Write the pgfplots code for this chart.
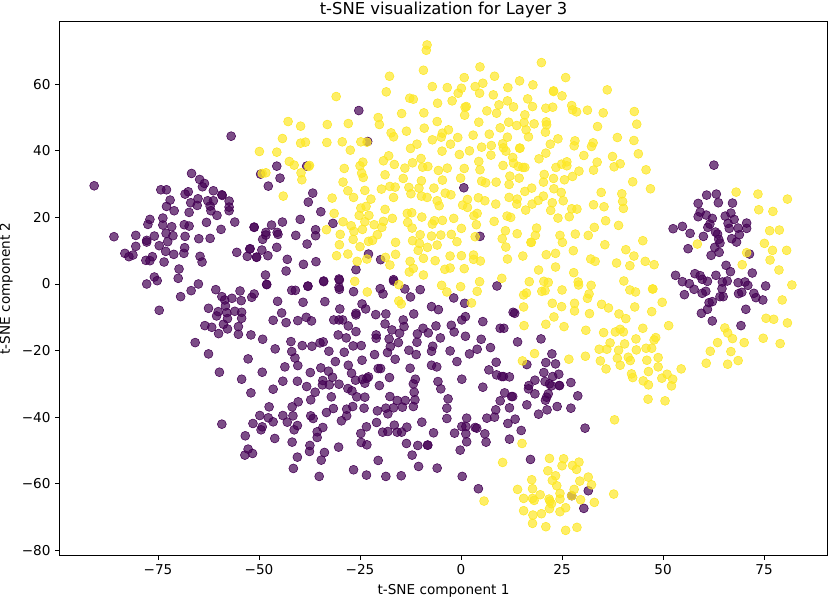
\documentclass[border=0pt]{standalone}
\usepackage{fontspec}
\setmainfont{DejaVu Sans}
\usepackage{pgfplots}
\pgfplotsset{compat=1.18}
\definecolor{vdark}{HTML}{440154}
\definecolor{vlight}{HTML}{FDE725}

\begin{document}
\begin{tikzpicture}
\useasboundingbox (-45pt,-33pt) rectangle (577.5pt,416.25pt);
\begin{axis}[
    scale only axis,
    width=575.25pt, height=399.75pt,
    xmin=-99.26, xmax=90.6,
    ymin=-81.4, ymax=78.7,
    axis line style={line width=0.75pt},
    tick style={black, line width=0.6pt},
    tick align=outside,
    major tick length=3.6pt,
    xtick pos=bottom, ytick pos=left,
    xtick={-75,-50,-25,0,25,50,75},
    xticklabels={−75,−50,−25,0,25,50,75},
    ytick={-80,-60,-40,-20,0,20,40,60},
    yticklabels={−80,−60,−40,−20,0,20,40,60},
    tick label style={font=\fontsize{10.2}{12}\selectfont},
    label style={font=\fontsize{10.2}{12}\selectfont},
    title style={font=\fontsize{12.3}{14}\selectfont, yshift=-6.5pt},
    title={t-SNE visualization for Layer 3},
    xlabel={t-SNE component 1},
    ylabel={t-SNE component 2},
]
% class 0
\addplot[only marks, mark=*, mark size=3.35pt, color=vdark, mark options={draw=none, fill=vdark, fill opacity=0.7}] coordinates {
(-56.9,44.4)(-90.8,29.5)(-66.7,33.2)(-64.7,31.4)(-63.5,30.2)(-64,29.2)(-61.3,28)(-74.3,28.3)(-72.9,28.3)(-67.5,27.7)
(-68.3,27)(-59.2,26.8)(-59.1,26.6)(-72,25.2)(-65.1,25.6)(-66.9,24.4)(-65.3,23.6)(-62.7,25)(-61.3,25)(-62.1,23.4)
(-57.4,24.9)(-57.4,23.1)(-57.4,22)(-61.9,22)(-72.9,23.3)(-71,22)(-67.3,21.5)(-60.4,20.6)(-56,18.6)(-77,19.4)
(-77.5,17.9)(-73.8,19.8)(-73.8,17.7)(-71.6,17.2)(-68.5,17.8)(-67.3,17.4)(-63,18.5)(-59.4,16.4)(-51.2,17)(-85.9,14.2)
(-80.5,14.6)(-75.9,14.4)(-73,15.2)(-71.3,14.5)(-68.3,14.3)(-64.9,13.6)(-62.1,13.7)(-77.8,13.1)(-77.8,12.6)(-72.6,12.7)
(-74.7,11.5)(-80.5,11.3)(-68.4,10.9)(-68.6,9.2)(-73.1,9.8)(-71.1,8.9)(-83.2,9.2)(-82.2,8.2)(-81.2,8.7)(-76.4,8.2)
(-78,7.1)(-77,7)(-73.5,6.6)(-64.6,8.3)(-64.1,6.6)(-69.8,4.5)(-55.5,9.5)(-52.3,10.5)(-52.9,8.3)(-50.6,8.1)
(-75.9,2.1)(-75.2,1)(-77.8,0)(-70,1.7)(-65,0)(-66.8,-2)(-69.4,-3.8)(-74.7,-7.9)(-60.7,-1.7)(-54.7,-2.1)
(-59.2,-3.8)(-58.5,-4.8)(-56.7,-4.3)(-54.4,-5)(-51.2,-3)(-51.8,-4)(-62.5,-7.3)(-58.3,-6.6)(-60.1,-8.3)(-58,-8.6)
(-56,-8.2)(-54.3,-8.5)(-60.5,-9.6)(-54.3,-10.3)(-57.8,-10.4)(-58.8,-12.1)(-55.1,-12.8)(-63.4,-12.5)(-61.7,-13)
(-48.1,-0.2)(-57.8,-13.5)(-55.1,-15.1)(-60,-14.9)(-52,-15.3)(-49.1,-16.6)(-65.8,-17.6)(-62.5,-21)(-52.7,-22.5)(-46,-19.5)
(-59.8,-26.5)(-54.3,-28.6)(-49.2,-26.5)(-52,-32.7)(-46.5,-31.6)(-59.2,-42.1)(-47.5,-36.9)(-49.8,-39.5)(-51.5,-41.9)(-47.7,-40.2)
(-46.5,-41.4)(-49.2,-42.9)(-49.5,-43.8)(-53.4,-45.6)(-46.1,-46.4)(-52.7,-49.6)(-53.5,-51.4)(-51.6,-50.9)
(-45.4,-5.2)(-44.4,-8.7)(-46.5,-10.9)(-43.3,-11.6)(-40.4,-11)(-38.3,-10)(-37,-11.1)(-39.1,-5.5)(-33.7,-5.3)(-41.9,-1.9)
(-41,-1.9)(-37.9,-0.7)(-34,0.7)(-30.1,-1.6)(-30.1,1.2)(-26.6,-2.3)(-30,-7.5)(-24.5,-6)(-23.6,-7.5)(-26,-8.8)
(-26,-9.3)(-31.5,-10.8)(-30.2,-10.8)(-29.3,-10.8)(-27.9,-12.6)(-26,-14.3)(-30.4,-15.3)(-28.4,-16.2)(-42.1,-17.3)(-39.3,-18.5)
(-36.9,-18.7)(-34.9,-17.7)(-34.1,-17.4)(-32.7,-20.2)(-28.9,-20.5)(-26.7,-18.6)(-24.7,-18.5)(-41.9,-20.3)(-41.1,-22.2)(-40.4,-24.5)
(-43.6,-24.9)(-31.1,-23.3)(-24.5,-22.9)(-27.9,-24.4)(-37.3,-26.6)(-34.7,-25.2)(-32.8,-26.2)(-27.1,-26.8)(-31.8,-28)(-44.1,-29.2)
(-40.5,-29.2)(-34.2,-29)(-34.3,-30.3)(-32.6,-30.3)(-38.2,-30.8)(-30.2,-30.1)(-26.1,-28.9)(-24.4,-28.6)(-23.3,-28.3)(-23.8,-29.8)
(-28,-31.4)(-27,-32.1)(-36.1,-32.5)(-37.2,-34.8)(-32.1,-33.9)(-25.8,-33.9)(-23.8,-34)(-40.3,-35.4)(-41.8,-36.9)(-31.6,-37.4)
(-26.8,-36.8)(-28.3,-37.6)(-24,-37.3)(-33.3,-38.6)(-28.3,-39.6)(-29.6,-41.1)(-44.1,-39.5)(-41.6,-39.6)(-43,-41.5)(-37.2,-39.6)
(-36.6,-40.4)(-40.5,-42.5)(-41.3,-43.8)(-34.2,-43.1)(-35.6,-44.4)(-35.6,-46.1)(-23.4,-42.9)(-24.8,-44.9)(-24.7,-47.6)(-23.3,-48.3)
(-41.8,-47.5)(-37.4,-48.5)(-37.5,-50.3)(-33.8,-50.6)(-30.3,-49)(-40.5,-52)(-34.6,-52.9)(-41.5,-55.4)(-35.1,-57.8)(-26.6,-55.8)(-23.4,-57.4)
(-20,-1.4)(-19.3,-3)(-13.9,-1.5)(-12.5,-3.9)(-10.1,-1.7)(-16.7,0.9)(-1.8,-4.2)(0.9,-5.8)(8.9,-0.6)(-7.3,-6.8)
(-5.6,-7.7)(-21.1,-9.2)(-18.6,-9)(-11.7,-9)(12.9,-8.5)(13.3,-8.8)(1.1,-9.8)(0.2,-10.8)(-14.3,-10.8)(-18.8,-12)
(-14.1,-12.8)(-17.1,-13.8)(-15.2,-14.8)(-9.4,-13.3)(-10.8,-15)(-8.1,-14.7)(-6.2,-12.6)(-2.4,-12.4)(-1.7,-14.4)(5.4,-11.3)
(9.7,-13.3)(10.6,-13.3)(-21,-15.3)(-21,-16.3)(-17.8,-16.5)(-15.5,-17.6)(-10.9,-17.5)(-5.1,-16.2)(1.1,-15.7)(5,-16.6)
(14,-17.4)(19.8,-16.5)(-17.5,-18.8)(-7,-18.7)(-7.3,-20.2)(-12.9,-19.9)(-11.1,-21.2)(-18.2,-20.6)(-21.4,-21.2)(-2.7,-20.1)
(2.1,-21)(4,-19.6)(7.3,-19.1)(-16.3,-22.6)(-1,-23.3)(8.7,-23.5)(16.3,-24.2)(22.5,-21)(21,-23.6)(23.4,-24)
(-20.5,-25.4)(-19.9,-25.4)(-12.6,-25.3)(-7.3,-24.4)(-6,-24.9)(6.9,-25.8)(8.8,-27.3)(10.1,-27.8)(10.5,-27.8)(12,-27.9)
(20.5,-26.6)(22.7,-27.8)(24.2,-27.1)(-22.9,-27.9)(-17.7,-28.1)(0.2,-28.6)(-11.3,-28.6)(-11.8,-30)(-5.7,-29.3)(-20.2,-30.5)
(-5,-31.5)(5.4,-31)(18.3,-28.9)(20.8,-29.3)(21.9,-30)(22.4,-30.6)(24.3,-30.5)(24.4,-30.5)(27.2,-29.6)(16.8,-30.5)
(16.7,-31.5)(18.3,-33)(21.6,-33)(21.2,-34)(20.9,-34.9)(28.9,-33.6)(-11.6,-32.5)(-11.4,-34.8)(-17.6,-33.8)(10.8,-32.7)
(12.5,-33.8)(12.8,-33.8)(9.7,-35.1)(-3.2,-34.5)(-15.8,-35)(-13.8,-35)(-14.5,-37)(-16.7,-37.2)(-18.6,-37.3)(-20.7,-38.1)
(-18.1,-39)(-11.8,-36.8)(-3.5,-37.3)(16.3,-36.3)(23.8,-36.8)(27.2,-37.3)(21.3,-37.8)(19.2,-39.1)(12,-37.2)(8.6,-37.8)
(8.3,-40)(6.4,-40.3)(-3.5,-40.4)(1.4,-40.3)(13.4,-40.6)(11.6,-41.9)(-9.7,-41.5)(-20.9,-41.6)(-16.5,-42.4)(-13.4,-43)
(0.2,-42.8)(1.2,-42.8)(3.5,-43.1)(3.9,-43.3)(30.7,-43.3)(-19.4,-44.5)(-18.1,-44.3)(-15.8,-44.5)(-14.7,-44.5)(-6.8,-44.7)
(-1.6,-44.8)(1.2,-45)(5.9,-45)(14.9,-44)(12,-46.6)(1.4,-47.4)(6.2,-47.5)(-13.5,-47.9)(-10.7,-48.5)(-8.3,-48.4)
(-8.2,-48.4)(-0.2,-49.9)(-12.1,-51.4)(-20.5,-53)(17.2,-52.7)(-10.5,-54.8)(-5.9,-55.3)(-18.6,-57.8)(-14.8,-57.6)(0.3,-57.8)(4.3,-61.5)
(31.5,-62.1)(30.4,-67.4)(27.4,-63.6)
(62.6,35.7)(60.8,26.7)(63.2,27)(63.7,24.4)(58.7,24.2)(67.2,24.3)(59.2,21.6)(58.7,20.2)(60.7,20.7)(62.2,19.7)
(65.4,20.4)(66.8,21.3)(67.6,19.4)(66.1,18.2)(70.7,18.3)(61.6,18)(61.1,17)(66.4,16.7)(68.6,16.8)(70.7,16.7)
(52.5,16.6)(54.8,17.3)(56.7,15.2)(60,14.3)(63,15.6)(63.5,15)(68.9,14.8)(63.8,13.4)(67,13.6)(64.1,12.3)
(68.2,12.6)(56.2,10.6)(62.8,11)(63.9,9.5)(61.9,8.6)(71.4,9)(65.6,5.6)(66.7,3.7)(72.1,3.3)(53.1,2.6)
(57.9,3.1)(59.2,2.5)(59.7,1.4)(63.1,2.6)(54.8,0.7)(56.5,0.1)(61,0.8)(64.7,0.6)(65.9,0.9)(68.6,0.4)
(70.3,0.6)(71,-0.4)(75.4,-0.6)(57.7,-1.6)(64.6,-1.4)(60.6,-2.2)(59.7,-2.8)(55.3,-3.2)(69.5,-2.5)(68.7,-2.9)
(72.5,-2.8)(73,-4.1)(74.7,-4.8)(64.1,-3.8)(64.9,-3.8)(62.2,-5.3)(61.4,-5.6)(61,-7.6)(59.5,-8.8)(70.5,-7.6)(62.2,-11.1)(69.3,-12.5)
(-25.3,52.1)(-23.1,42.8)(-45.6,35.4)(-49.6,33)(-38.2,35.4)(-44.8,31.8)(-47.7,29.4)(-36.7,27.3)(-37.8,24.6)(-34.7,21.7)
(-39.8,19.4)(-31.7,18.2)(-51.2,17.1)(-46.9,17.7)(-48.3,15.5)(-48.3,14.7)(-44.2,18.6)(-45.5,15.5)(-45.3,14.9)(-49.1,13.4)
(-40.9,14.6)(-36,16.3)(-36,14.5)(-38.1,12)(-45.6,11)(-52.2,10.6)(-49.3,10.2)(-50.6,8)(-47.8,8.5)(-43,7.4)
(-39,5.9)(-35.9,6.7)(-43.3,3.9)(-48.4,2.7)(-48.1,-0.1)(-37.9,-0.6)(-34,0.9)(-30.2,1.5)(-30.2,-1)(-26,4.3)
(-22.9,9)(-19.9,7.3)(-16.7,1.3)(0.7,28.9)(4.7,14.3)
};
% class 1
\addplot[only marks, mark=*, mark size=3.35pt, color=vlight, mark options={draw=none, fill=vlight, fill opacity=0.7}] coordinates {
(-23.2,-2.4)(-15.4,-0.2)(-15.4,-5.1)(-14.8,-6)(-4.8,-0.4)(-3.5,-2.4)(-0.1,-0.8)(4.6,0.7)(4,-2.2)(2.6,-5.7)
(15.2,-23.1)(18.2,-20.9)(26.7,-22.6)(30.8,-21.7)(15.1,-47.9)(10.3,-53.6)
(21.9,-52.4)(25.4,-52.5)(25,-54.6)(27.6,-54.5)(29.2,-53.5)(28.6,-55.7)(21.5,-56.1)(23.4,-57.6)(22.6,-59)(17.5,-58.8)
(23.7,-60.6)(29.4,-59.2)(31.5,-58)(32.3,-60.3)(14,-61.7)(17.7,-61.5)(28,-61.7)(24.5,-62.9)(19.6,-63.3)(15.5,-64.4)
(17.7,-64.4)(18.1,-65)(21.8,-64.6)(22,-65.2)(22.4,-66)(24.5,-64.6)(29.6,-64.8)(33,-65.6)(37.8,-63.1)(5.7,-65.2)
(27.4,-63.6)(21.9,-67.5)(25.9,-67.2)(24.5,-68.4)(15.5,-68.1)(19.9,-69)(17.8,-69.4)(17.7,-71.9)(21,-72.9)(25.9,-74)(28.7,-73.1)
(45.8,34.3)(46.9,28.6)(68.1,27.6)(73.5,27)(80.8,25.5)(73.7,22.3)(77.2,21.8)(76.4,16)(78.8,16.2)(58.5,12)
(75.1,12.2)(70.7,9.4)(77.1,10.1)(80.6,10.1)(76.5,7.2)(69.6,5.8)(78.7,4.2)(81.9,-0.3)(79.5,-4.8)(45,13)
(45.6,6.8)(47.8,5.8)(47.4,-1.5)(49.8,-5.5)(47.2,-8.3)(51.4,-12.5)(45,-13.3)(75.5,-10.3)(77.4,-10.6)(80.8,-11.7)
(65.3,-13.2)(66,-14.7)(67.2,-16.4)(74.8,-16.3)(79,-17.9)(63.5,-17.6)(70.1,-17.6)(61.7,-20.2)(66.8,-20.3)(60.7,-23.8)
(66,-24.1)(68.6,-23)(54.5,-25.5)(48.2,-16.1)(47.8,-16.8)(45.8,-19.3)(47.2,-19.3)(48.8,-22.1)(46,-22.9)(48.8,-24.9)
(46.4,-26.3)(51,-27.1)(49.7,-28.3)(52.4,-28.6)
(16.9,0.7)(20.5,0.8)(21.6,0.5)(20,-2.2)(20.8,-2)(16.2,-2.7)(15.5,-3.3)(25,-1.8)(29,0.6)(29.1,-0.3)
(32.2,-0.4)(31.7,-3)(31.3,-4.3)(40.3,0.9)(41.8,-1.8)(43.2,-2.4)(47.5,-1.5)(15.5,-6.9)(22.6,-5.8)(24.9,-6.8)
(28.1,-5.8)(28.1,-8.1)(34.8,-6.1)(36.5,-7.2)(43,-6.9)(39.1,-9)(31.8,-8.9)(40.8,-10.4)(23,-9.9)(15.6,-12.5)
(21,-12.1)(25.5,-12.8)(30.9,-13.9)(35.3,-14.6)(38.2,-14.4)(39.4,-13.6)(40.2,-14.4)(43.3,-16.5)(36.9,-17.7)(40.5,-18)
(34.2,-19.6)(36.1,-19.6)(39,-19.9)(43.4,-19.8)(34.5,-23.1)(38.7,-22.3)(41.4,-22)(41.9,-23)(35.9,-25.5)(39.4,-24.4)
(42.2,-27)(42.5,-28.1)(45.1,-29.1)(46.4,-30.3)(52.1,-30.6)(46.3,-34.6)(50.5,-35.1)(38,-40.8)
(36.2,58.3)(22.9,57.8)(25,56.5)(16.5,55.6)(17.7,53.3)(21,52.8)(22.7,53.1)(27.4,53.6)(27.6,52.3)(28.6,51.7)
(31.3,52.2)(35.2,51.4)(42.9,51.8)(15.8,50.8)(15.6,48.5)(18.1,48.1)(21.1,48.7)(21.2,47.8)(43.5,48)(33.8,47.3)
(16.1,46.3)(20.9,45.6)(16.7,44.2)(38.7,44)(42.8,43.1)(24,43.6)(28.2,43)(28,41.5)(32.7,42.4)(32.3,41.3)
(22.1,42)(14.6,40.8)(21,39.3)(30.4,38.6)(43.9,39.1)(37.5,38.3)(19.3,37.6)(33.7,36.6)(39.4,36.1)(37.9,35.2)
(26.2,36.7)(24.9,36)(26.2,35.5)(23.5,35)(29.2,33.9)(32.8,34.2)(15.3,35)(15.8,35)(20.6,32.9)(27.6,32.3)
(22.9,31.7)(25.6,31.3)(20.4,30.6)(42.5,30.7)(17.5,28.8)(15.8,27.8)(23,28.6)(24.8,27.5)(34.7,27.5)(39.8,27.1)
(20.4,26.4)(19.1,25.1)(17.6,24)(25.3,25)(22.6,24.4)(40,24.8)(32.8,23.8)(35.4,23.2)(40.2,22.7)(16,22.2)
(22.2,22.1)(27.4,22.6)(28.7,22.5)(26.8,20.2)(24,19.8)(35.8,19)(39,17.6)(33,17)(18.7,16.8)(18.4,14.6)
(24.5,14.6)(28.3,15)(31.5,14.6)(17.4,12.5)(17.3,12.5)(25.1,12.5)(35.6,11.8)(40.8,10.3)(27.8,10)(21.1,8.8)
(23.4,9.2)(42.8,8.4)(15.3,8.4)(32.1,7.5)(33.2,6.8)(38.5,6.3)(41.8,5.5)(23.4,5.1)(19.2,4.2)(27.9,3.4)
(-8.4,71.8)(-8.6,70.2)(-9.3,64.2)(-17.7,62.4)(-18.5,57.7)(4.7,65.2)(19.9,66.5)(0.8,62)(8.3,62.4)(-7.1,59.3)
(-3.4,59)(3.5,59.3)(5.4,60.3)(0.1,58.8)(-0.7,57.3)(4.6,57.3)(14.5,61)(17.8,59.8)(11.6,59)(8,56.8)
(25.9,62)(22.9,58)(-12.7,55.8)(-11.8,55.5)(-2.2,55)(-5.8,54.3)(11.5,55)(9.4,53.8)(13,53.2)(1,53.1)
(1.3,53.3)(0.9,50.7)(6.4,52)(8.8,51.3)(-14.7,51.2)(-9.2,51.4)(-20.5,50)(-20.2,47.9)(-5.9,48.8)(4.4,48.6)
(11.8,48.6)(13.8,47.6)(9.7,46.9)(-9.1,46.8)(-13.5,45.9)(-3.1,46.3)(-4.6,45.3)(-4.9,44.1)(-17.3,45.4)(-16.7,44.2)
(7,45)(3,44.7)(-0.8,44)(11.5,44.1)(-7.1,43.3)(-10.9,42)(-12.5,40.7)(-2.6,42)(10.3,42.1)(10.5,40.9)
(11.1,39.9)(5.1,41.1)(7.5,41.6)(14.5,40.8)(-4.7,39.9)(2.1,40)(7.4,38.7)(-0.4,38.9)(12.8,38)(13,36.3)
(-17.9,38.5)(-19.2,37)(-9.9,37.7)(4.4,36.8)(-16.5,35.9)(-12,36.4)(-9.5,35.1)(-8.2,35.3)(-3.4,34.8)(-5.6,34.1)
(0.8,34.7)(4.7,34.3)(10.4,35.6)(14.2,35.3)(-13.9,34.8)
(-14.3,31.7)(-9.8,31)(-4.6,31.2)(-0.1,31.8)(12.1,32.4)(11.9,29.9)(14.4,31.8)(5.1,30.9)(6.1,30.4)(8.7,30.6)
(-12.9,29)(-10.4,28.8)(-6.7,28.8)(-12.4,27.1)(-3.9,27.3)(-2.5,26.8)(-9.8,26.4)(-8.4,26)(11.9,26)(13.9,25.5)
(13.8,24)(4.3,25.9)(5.9,25)(1.6,25.4)(8.6,24)(-5.9,25)(-5.4,23.5)(0.4,23.7)(1.6,23)(4,21.2)
(3.2,20.5)(-13.3,21.2)(-12.2,21.4)(-13.2,18.5)(-9.7,20.1)(-4.6,19.1)(-6.6,19)(-7.1,18)(-1.8,19.7)(3.8,17.8)
(8.2,18.8)(11.4,20.4)(12.3,20)(-12.1,16.8)(0.1,16.7)(11,16)(-10.1,14.8)(-12,13)(-10.3,12.2)(-10.6,10.1)
(-8.3,11)(-7.3,14.4)(-5,14.7)(-2.4,14.9)(-1,12.7)(-5.9,11.7)(3.5,14.2)(10.2,13.6)(13.9,15.1)(11.1,11.1)
(-2.7,8.4)(-9.3,7.7)(0.1,8.5)(-6.4,7)(3.1,8.7)(3.1,7.4)(4.8,6.9)(11.5,7.5)(-12.6,6.8)(-11.8,4.7)
(-12.8,3.6)(-4,4.4)(-2.7,4.8)(0.8,4.6)(-9.3,2.7)(10.1,1.7)
(-30.9,56.3)(-42.8,48.8)(-39.7,47.4)(-33.1,47.9)(-27.9,48.2)(-44.2,43.7)(-39.7,42.3)(-38.5,42.6)(-33.2,42.5)(-29.4,42.7)
(-24.8,42.7)(-27.4,40.2)(-49.9,39.8)(-45.6,39.6)(-42.5,36.8)(-41.3,35.7)(-37.5,35.6)(-39.6,33.4)(-39.4,31.3)(-48.3,33.4)
(-28.9,34.7)(-25,35.5)(-24.3,36.6)(-24.6,33.3)(-24.2,32)(-18.8,32.8)(-29.2,30.6)(-44,26.4)(-28,28)(-26.6,26)
(-23.8,28.1)(-19.7,28.5)(-17.6,29.3)(-16.3,29.1)(-16.7,26)(-31.9,25.8)(-22.3,25.5)(-24.8,22.8)(-23.5,23.3)(-18.8,22.4)
(-31.4,21.2)(-25.2,20.6)(-22.8,20.6)(-23.8,18.7)(-17,19.7)(-19.2,18.8)(-29.2,18.7)(-27.2,17.5)(-26.5,15.8)(-24.4,16.4)
(-21.5,17.8)(-19.6,17)(-33.3,16.3)(-29.9,14.9)(-20.7,14.8)(-26.7,13.4)(-22.9,12.8)(-21.9,13.1)(-16.2,12.5)(-30.1,11.8)
(-25,11.2)(-16.2,8.9)(-30.8,8.5)(-28,9)(-25.7,6.8)(-23.3,7.5)(-18.7,8)(-17.6,5.7)(-26.3,0.8)
(-49.2,33.2)(-37.7,35.3)(-23.3,42.6)
};
\end{axis}
\end{tikzpicture}
\end{document}
